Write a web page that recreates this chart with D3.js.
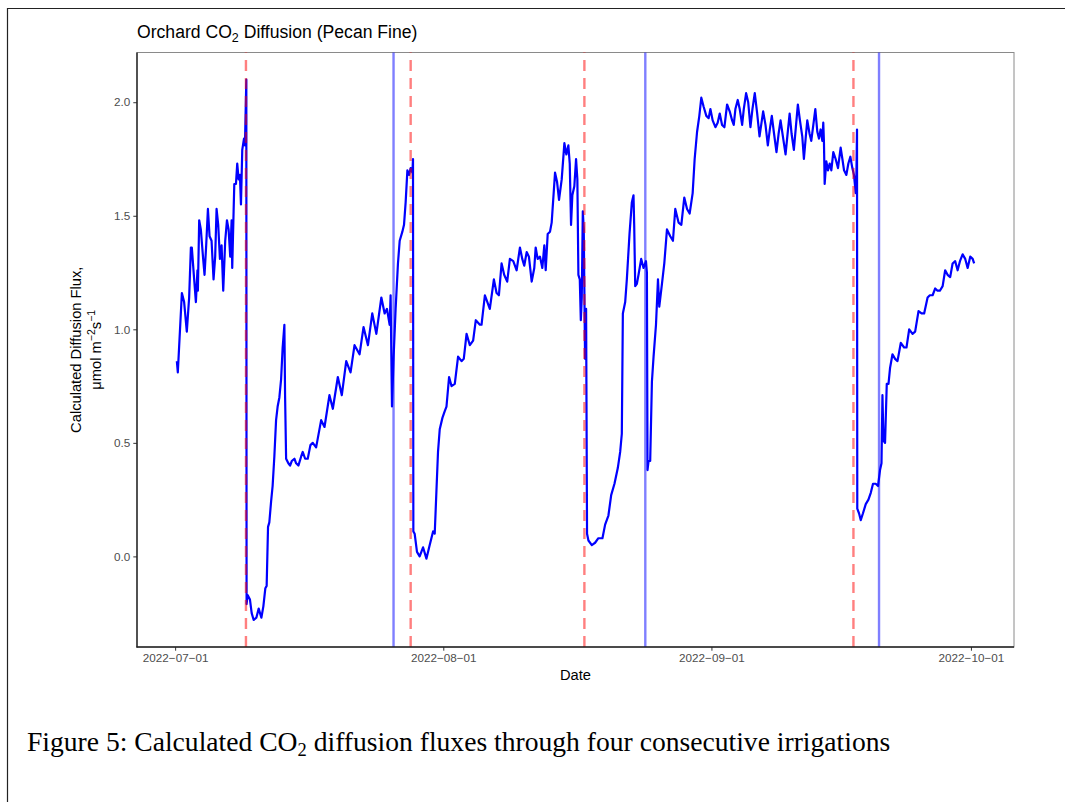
<!DOCTYPE html>
<html lang="en">

<head>
	<meta charset="utf-8">
	<script src="https://d3js.org/d3.v7.min.js"></script>
	<style type="text/css">
		body {
			margin: 0;
			background: white;
		}

		svg text {
			font-family: "Liberation Sans", Arial, Helvetica, sans-serif;
		}
	</style>
</head>

<body>
	<svg id="svg1" width="1065" height="802"></svg>
	<script type="text/javascript">
		// flux readings: [days since 2022-07-01 00:00, umol m-2 s-1]
		var fluxSeries = [
			[0.20, 0.86], [0.31, 0.81], [0.78, 1.16], [1.04, 1.12], [1.35, 0.99], [1.62, 1.14], [1.82, 1.36], [1.93, 1.36],
			[2.20, 1.22], [2.40, 1.12], [2.58, 1.26], [2.63, 1.17], [2.78, 1.48], [2.97, 1.44], [3.24, 1.31], [3.40, 1.24],
			[3.59, 1.37], [3.79, 1.53], [3.98, 1.41], [4.21, 1.39], [4.44, 1.22], [4.63, 1.32], [4.79, 1.53], [4.98, 1.46],
			[5.18, 1.31], [5.37, 1.37], [5.56, 1.17], [5.79, 1.39], [5.99, 1.48], [6.18, 1.44], [6.37, 1.32], [6.53, 1.48],
			[6.60, 1.27], [6.76, 1.52], [6.84, 1.64], [7.03, 1.64], [7.18, 1.73], [7.34, 1.66], [7.49, 1.68], [7.61, 1.55],
			[7.76, 1.79], [7.96, 1.84], [8.07, 1.81], [8.23, 2.10], [8.26, -0.21], [8.38, -0.17], [8.65, -0.19], [8.85, -0.25],
			[9.08, -0.28], [9.39, -0.27], [9.66, -0.23], [9.97, -0.27], [10.20, -0.22], [10.43, -0.14], [10.58, -0.13],
			[10.74, 0.13], [10.89, 0.15], [11.09, 0.24], [11.27, 0.31], [11.47, 0.44], [11.67, 0.60], [11.85, 0.66],
			[12.05, 0.70], [12.25, 0.78], [12.43, 0.92], [12.63, 1.02], [12.71, 0.71], [12.83, 0.43], [13.09, 0.41],
			[13.29, 0.40], [13.48, 0.42], [13.79, 0.43], [13.99, 0.41], [14.25, 0.40], [14.57, 0.44], [14.75, 0.46],
			[15.03, 0.43], [15.33, 0.43], [15.64, 0.49], [15.91, 0.50], [16.30, 0.48], [16.88, 0.60], [17.27, 0.57],
			[17.84, 0.71], [18.23, 0.65], [18.81, 0.79], [19.27, 0.71], [19.78, 0.86], [20.28, 0.81], [20.74, 0.93],
			[21.32, 0.89], [21.78, 1.01], [22.29, 0.93], [22.79, 1.07], [23.26, 0.98], [23.84, 1.14], [24.22, 1.07],
			[24.49, 1.09], [24.80, 1.02], [24.91, 1.15], [25.07, 0.66], [25.26, 0.88], [25.49, 1.09], [25.76, 1.29],
			[25.96, 1.39], [26.27, 1.43], [26.46, 1.46], [26.65, 1.56], [26.85, 1.70], [27.04, 1.68], [27.23, 1.71],
			[27.43, 1.69], [27.50, 1.75], [27.54, 0.11], [27.69, 0.10], [27.96, 0.02], [28.27, 0.00], [28.66, 0.04],
			[29.05, -0.01], [29.43, 0.05], [29.82, 0.11], [30.01, 0.10], [30.21, 0.29], [30.39, 0.46], [30.59, 0.56],
			[30.90, 0.61], [31.17, 0.64], [31.37, 0.66], [31.67, 0.79], [31.95, 0.75], [32.33, 0.76], [32.71, 0.88],
			[33.11, 0.86], [33.37, 0.87], [33.69, 0.98], [34.07, 0.93], [34.45, 0.95], [34.76, 1.04], [35.23, 1.02],
			[35.42, 1.02], [35.81, 1.15], [36.19, 1.11], [36.38, 1.09], [36.85, 1.22], [37.16, 1.16], [37.43, 1.15],
			[37.74, 1.29], [38.04, 1.24], [38.39, 1.21], [38.70, 1.31], [39.09, 1.30], [39.48, 1.26], [39.86, 1.36],
			[40.13, 1.31], [40.36, 1.28], [40.64, 1.34], [40.90, 1.32], [41.22, 1.21], [41.52, 1.27], [41.68, 1.36],
			[41.91, 1.31], [42.18, 1.32], [42.45, 1.27], [42.68, 1.37], [42.84, 1.26], [43.07, 1.42], [43.34, 1.43],
			[43.53, 1.47], [43.92, 1.69], [44.15, 1.65], [44.38, 1.57], [44.69, 1.66], [45.00, 1.82], [45.23, 1.77],
			[45.46, 1.81], [45.62, 1.73], [45.77, 1.46], [45.92, 1.59], [46.15, 1.63], [46.35, 1.75], [46.50, 1.66],
			[46.62, 1.24], [46.78, 1.22], [46.90, 1.04], [47.01, 1.14], [47.13, 1.52], [47.24, 1.44], [47.39, 0.87],
			[47.51, 1.09], [47.62, 0.10], [47.78, 0.07], [48.17, 0.05], [48.55, 0.06], [48.93, 0.08], [49.40, 0.08],
			[49.71, 0.14], [50.09, 0.18], [50.41, 0.27], [50.79, 0.32], [51.18, 0.39], [51.45, 0.46], [51.64, 0.54],
			[51.76, 1.07], [52.03, 1.12], [52.22, 1.22], [52.53, 1.42], [52.80, 1.56], [52.99, 1.59], [53.07, 1.46],
			[53.19, 1.19], [53.38, 1.20], [53.57, 1.24], [53.88, 1.31], [54.15, 1.27], [54.43, 1.30], [54.54, 1.25],
			[54.61, 0.38], [54.73, 0.42], [54.92, 0.42], [55.12, 0.77], [55.31, 0.88], [55.59, 1.02], [55.82, 1.22],
			[55.97, 1.10], [56.28, 1.20], [56.55, 1.29], [56.86, 1.44], [57.24, 1.41], [57.55, 1.39], [57.82, 1.53],
			[58.20, 1.47], [58.52, 1.46], [58.86, 1.58], [59.18, 1.53], [59.48, 1.51], [59.83, 1.60], [60.06, 1.75],
			[60.34, 1.87], [60.60, 1.94], [60.83, 2.02], [61.10, 1.98], [61.41, 1.94], [61.68, 1.93], [61.88, 1.97],
			[62.14, 1.92], [62.46, 1.89], [62.72, 1.91], [62.96, 1.95], [63.23, 1.90], [63.50, 1.89], [63.81, 1.99],
			[64.11, 1.96], [64.39, 1.92], [64.58, 1.90], [64.77, 1.97], [65.04, 2.01], [65.27, 1.97], [65.55, 1.90],
			[65.74, 1.97], [66.01, 2.04], [66.25, 2.00], [66.51, 1.89], [66.74, 1.97], [67.01, 2.04], [67.29, 1.95],
			[67.56, 1.85], [67.79, 1.91], [67.98, 1.96], [68.25, 1.90], [68.52, 1.81], [68.75, 1.88], [68.98, 1.94],
			[69.21, 1.87], [69.52, 1.78], [69.76, 1.86], [69.99, 1.92], [70.26, 1.85], [70.57, 1.77], [70.80, 1.86],
			[71.04, 1.95], [71.27, 1.86], [71.53, 1.79], [71.76, 1.89], [71.99, 1.99], [72.23, 1.92], [72.50, 1.85],
			[72.69, 1.75], [72.89, 1.84], [73.08, 1.92], [73.35, 1.86], [73.54, 1.83], [73.78, 1.90], [74.01, 1.97],
			[74.24, 1.87], [74.43, 1.84], [74.62, 1.88], [74.82, 1.83], [74.93, 1.91], [75.01, 1.82], [75.09, 1.64],
			[75.28, 1.74], [75.47, 1.70], [75.67, 1.73], [75.86, 1.70], [76.09, 1.78], [76.36, 1.75], [76.63, 1.71],
			[76.94, 1.80], [77.14, 1.75], [77.33, 1.70], [77.60, 1.68], [77.83, 1.73], [78.06, 1.76], [78.29, 1.71],
			[78.48, 1.68], [78.68, 1.60], [78.76, 1.68], [78.83, 1.88], [78.86, 0.21], [79.06, 0.19], [79.26, 0.16],
			[79.52, 0.19], [79.84, 0.23], [80.15, 0.25], [80.42, 0.28], [80.68, 0.32], [80.99, 0.32], [81.26, 0.31],
			[81.49, 0.38], [81.66, 0.41], [81.77, 0.71], [81.89, 0.51], [82.07, 0.50], [82.27, 0.76], [82.47, 0.76],
			[82.65, 0.83], [82.93, 0.89], [83.23, 0.87], [83.51, 0.86], [83.89, 0.94], [84.28, 0.92], [84.55, 0.92],
			[84.86, 1.00], [85.25, 0.98], [85.55, 0.99], [85.94, 1.08], [86.29, 1.07], [86.59, 1.07], [86.99, 1.14],
			[87.25, 1.15], [87.57, 1.15], [87.87, 1.18], [88.14, 1.17], [88.41, 1.17], [88.73, 1.19], [89.02, 1.26],
			[89.30, 1.24], [89.60, 1.23], [89.88, 1.29], [90.18, 1.30], [90.46, 1.26], [90.73, 1.30], [91.04, 1.33],
			[91.34, 1.31], [91.62, 1.27], [91.92, 1.32], [92.20, 1.31], [92.37, 1.29]
		];

		// irrigation markers
		var redDashedDates = ["2022-07-09 04:30", "2022-07-28 05:30", "2022-08-17 07:30", "2022-09-17 10:00"];
		var blueSolidDates = ["2022-07-26 06:00", "2022-08-24 08:30", "2022-09-20 09:00"];

		var xTickDates = ["2022-07-01", "2022-08-01", "2022-09-01", "2022-10-01"];
		var yTicks = [0, 0.5, 1.0, 1.5, 2.0];

		var panel = { left: 137, right: 1014, top: 52.5, bottom: 647 };
		var startDate = new Date(2022, 6, 1);
		var parseTime = d3.timeParse("%Y-%m-%d %H:%M");
		var parseDay = d3.timeParse("%Y-%m-%d");

		function dayToDate(d) {
			return new Date(startDate.getTime() + d * 86400000);
		}

		var data = fluxSeries.map(function (p) {
			return { date: dayToDate(p[0]), value: p[1] };
		});

		// ggplot style 5% expansion
		var xExt = d3.extent(data, d => d.date);
		var xPad = (xExt[1] - xExt[0]) * 0.05;
		var yExt = d3.extent(data, d => d.value);
		var yPad = (yExt[1] - yExt[0]) * 0.05;

		var x = d3.scaleTime()
			.domain([new Date(xExt[0].getTime() - xPad), new Date(xExt[1].getTime() + xPad)])
			.range([panel.left, panel.right]);

		var y = d3.scaleLinear()
			.domain([yExt[0] - yPad, yExt[1] + yPad])
			.range([panel.bottom, panel.top]);

		var svg = d3.select("#svg1");

		svg.append("rect")
			.attr("width", 1065)
			.attr("height", 802)
			.style("fill", "white");

		// page frame
		svg.append("path")
			.attr("d", "M7.5,802 L7.5,8.5 L1065,8.5")
			.style("fill", "none")
			.style("stroke", "#222")
			.style("stroke-width", 1.2);

		// panel border
		svg.append("rect")
			.attr("x", panel.left)
			.attr("y", panel.top)
			.attr("width", panel.right - panel.left)
			.attr("height", panel.bottom - panel.top)
			.style("fill", "white")
			.style("stroke", "#8a8a8a")
			.style("stroke-width", 1);

		var line = d3.line()
			.x(d => x(d.date))
			.y(d => y(d.value));

		svg.append("path")
			.datum(data)
			.attr("d", line)
			.style("fill", "none")
			.style("stroke", "#0000ff")
			.style("stroke-width", 2.2)
			.style("stroke-linejoin", "round");

		svg.selectAll(".vblue")
			.data(blueSolidDates)
			.enter()
			.append("line")
			.attr("class", "vblue")
			.attr("x1", d => x(parseTime(d)))
			.attr("x2", d => x(parseTime(d)))
			.attr("y1", panel.bottom)
			.attr("y2", panel.top)
			.style("stroke", "#0000ff")
			.style("stroke-opacity", 0.5)
			.style("stroke-width", 2.4);

		svg.selectAll(".vred")
			.data(redDashedDates)
			.enter()
			.append("line")
			.attr("class", "vred")
			.attr("x1", d => x(parseTime(d)))
			.attr("x2", d => x(parseTime(d)))
			.attr("y1", panel.bottom)
			.attr("y2", panel.top)
			.style("stroke", "#ff0000")
			.style("stroke-opacity", 0.5)
			.style("stroke-width", 2.4)
			.style("stroke-dasharray", "11,7");

		// axes
		var xAxis = d3.axisBottom(x)
			.tickValues(xTickDates.map(parseDay))
			.tickFormat(d3.timeFormat("%Y\u2212%m\u2212%d"))
			.tickSize(3.7)
			.tickPadding(3);

		var yAxis = d3.axisLeft(y)
			.tickValues(yTicks)
			.tickFormat(d3.format(".1f"))
			.tickSize(3.7)
			.tickPadding(3);

		var gx = svg.append("g")
			.attr("transform", "translate(0," + panel.bottom + ")")
			.call(xAxis);
		var gy = svg.append("g")
			.attr("transform", "translate(" + panel.left + ",0)")
			.call(yAxis);

		[gx, gy].forEach(function (g) {
			g.select(".domain").remove();
			g.selectAll(".tick line").style("stroke", "#333").style("stroke-width", 1);
			g.selectAll(".tick text")
				.style("fill", "#4d4d4d")
				.style("font-size", "11.7px")
				.style("font-family", "'Liberation Sans', Arial, sans-serif");
		});

		// axis lines
		svg.append("line")
			.attr("x1", panel.left).attr("x2", panel.left)
			.attr("y1", panel.top).attr("y2", panel.bottom + 0.5)
			.style("stroke", "#222").style("stroke-width", 1.4);
		svg.append("line")
			.attr("x1", panel.left - 0.5).attr("x2", panel.right)
			.attr("y1", panel.bottom).attr("y2", panel.bottom)
			.style("stroke", "#222").style("stroke-width", 1.4);

		// title
		var title = svg.append("text")
			.attr("x", panel.left)
			.attr("y", 38)
			.style("font-size", "17.6px")
			.style("fill", "black");
		title.append("tspan").text("Orchard CO");
		title.append("tspan").attr("dy", 4).style("font-size", "12.5px").text("2");
		title.append("tspan").attr("dy", -4).text(" Diffusion (Pecan Fine)");

		svg.append("text")
			.attr("x", (panel.left + panel.right) / 2)
			.attr("y", 680)
			.attr("text-anchor", "middle")
			.style("font-size", "14.7px")
			.text("Date");

		var midY = (panel.top + panel.bottom) / 2;
		svg.append("text")
			.attr("transform", "translate(81," + midY + ") rotate(-90)")
			.attr("text-anchor", "middle")
			.style("font-size", "14.7px")
			.text("Calculated Diffusion Flux,");

		var unit = svg.append("text")
			.attr("transform", "translate(101," + midY + ") rotate(-90)")
			.attr("text-anchor", "middle")
			.style("font-size", "14.7px");
		unit.append("tspan").text("\u03bcmol m");
		unit.append("tspan").attr("dy", -6).style("font-size", "10.5px").text("\u22122");
		unit.append("tspan").attr("dy", 6).text("s");
		unit.append("tspan").attr("dy", -6).style("font-size", "10.5px").text("\u22121");

		// figure caption
		var caption = svg.append("text")
			.attr("x", 27)
			.attr("y", 751)
			.style("font-family", "'Liberation Serif', 'Times New Roman', serif")
			.style("font-size", "27.6px")
			.style("fill", "black");
		caption.append("tspan").text("Figure 5: Calculated CO");
		caption.append("tspan").attr("dy", 5).style("font-size", "18.5px").text("2");
		caption.append("tspan").attr("dy", -5).text(" diffusion fluxes through four consecutive irrigations");
	</script>

</body>

</html>
